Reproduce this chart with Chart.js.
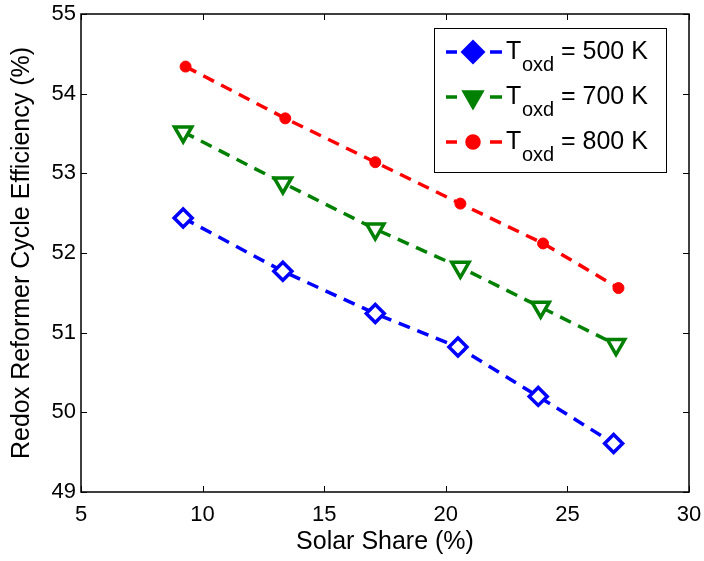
<!DOCTYPE html>
<html>
<head>
<meta charset="utf-8">
<script src="https://cdn.jsdelivr.net/npm/chart.js@4"></script>
<style>
  html, body { margin: 0; padding: 0; background: #fff; }
  #wrap { width: 704px; height: 561px; }
</style>
</head>
<body>
<div id="wrap"><canvas id="effChart" width="704" height="561"></canvas></div>
<script>
// solar share (%) and cycle efficiency (%) for each oxidation temperature
const share500 = [9.2, 13.3, 17.1, 20.5, 23.8, 26.9];
const eff500 = [52.44, 51.77, 51.24, 50.82, 50.20, 49.61];
const share700 = [9.2, 13.3, 17.1, 20.6, 23.9, 27.0];
const eff700 = [53.52, 52.88, 52.30, 51.82, 51.32, 50.85];
const share800 = [9.3, 13.4, 17.1, 20.6, 24.0, 27.1];
const eff800 = [54.34, 53.69, 53.14, 52.62, 52.12, 51.56];

const seriesTemps = ['500', '700', '800'];
const xTicks = [5, 10, 15, 20, 25, 30];
const yTicks = [49, 50, 51, 52, 53, 54, 55];

const FONT = "'Liberation Sans', Arial, Helvetica, sans-serif";

function pts(xs, ys) {
    return xs.map((x, i) => ({ x: x, y: ys[i] }));
}

const lineStyle = {
    showLine: true,
    borderWidth: 3.5,
    borderDash: [12, 8],
    pointBorderWidth: 3.5
};

const datasets = [
    Object.assign({}, lineStyle, {
        label: 'T oxd = ' + seriesTemps[0] + ' K',
        data: pts(share500, eff500),
        borderColor: '#0000ff',
        pointBorderColor: '#0000ff',
        pointBackgroundColor: '#ffffff',
        pointStyle: 'rectRot',
        pointRadius: 9
    }),
    Object.assign({}, lineStyle, {
        label: 'T oxd = ' + seriesTemps[1] + ' K',
        data: pts(share700, eff700),
        borderColor: '#008000',
        pointBorderColor: '#008000',
        pointBackgroundColor: '#ffffff',
        pointStyle: 'triangle',
        pointRotation: 180,
        pointRadius: 10
    }),
    Object.assign({}, lineStyle, {
        label: 'T oxd = ' + seriesTemps[2] + ' K',
        data: pts(share800, eff800),
        borderColor: '#ff0000',
        pointBorderColor: '#ff0000',
        pointBackgroundColor: '#ff0000',
        pointBorderWidth: 1,
        pointStyle: 'circle',
        pointRadius: 5.5
    })
];

// box frame and inward ticks on all four sides
const framePlugin = {
    id: 'frame',
    afterDraw(chart) {
        const ctx = chart.ctx;
        const a = chart.chartArea;
        const xs = chart.scales.x, ys = chart.scales.y;
        const len = 6;
        ctx.save();
        ctx.strokeStyle = '#000';
        ctx.lineWidth = 1;
        ctx.beginPath();
        xTicks.forEach(v => {
            const px = Math.round(xs.getPixelForValue(v)) + 0.5;
            ctx.moveTo(px, a.bottom); ctx.lineTo(px, a.bottom - len);
            ctx.moveTo(px, a.top); ctx.lineTo(px, a.top + len);
        });
        yTicks.forEach(v => {
            const py = Math.round(ys.getPixelForValue(v)) + 0.5;
            ctx.moveTo(a.left, py); ctx.lineTo(a.left + len, py);
            ctx.moveTo(a.right, py); ctx.lineTo(a.right - len, py);
        });
        ctx.stroke();
        ctx.lineWidth = 1.5;
        ctx.strokeRect(a.left, a.top, a.right - a.left, a.bottom - a.top);
        ctx.restore();
    }
};

// legend with subscripted labels
const legendPlugin = {
    id: 'subLegend',
    afterDraw(chart) {
        const ctx = chart.ctx;
        const box = { x: 434, y: 28, w: 232, h: 144 };
        const rows = [52, 97, 142];
        ctx.save();
        ctx.fillStyle = '#fff';
        ctx.fillRect(box.x, box.y, box.w, box.h);
        ctx.strokeStyle = '#000';
        ctx.lineWidth = 1;
        ctx.strokeRect(box.x + 0.5, box.y + 0.5, box.w, box.h);

        chart.data.datasets.forEach((ds, i) => {
            const y = rows[i];
            ctx.strokeStyle = ds.borderColor;
            ctx.lineWidth = 3.5;
            ctx.beginPath();
            ctx.moveTo(446, y); ctx.lineTo(457, y);
            ctx.moveTo(490, y); ctx.lineTo(502, y);
            ctx.stroke();
            Chart.helpers.drawPoint(ctx, {
                pointStyle: ds.pointStyle,
                rotation: ds.pointRotation || 0,
                radius: ds.pointStyle === 'circle' ? 6 : 10,
                borderWidth: 1
            }, 473, y);
            ctx.fillStyle = ds.borderColor;
            ctx.fill();

            ctx.fillStyle = '#000';
            ctx.textBaseline = 'alphabetic';
            ctx.textAlign = 'left';
            ctx.font = '25px ' + FONT;
            ctx.fillText('T', 506, y + 7);
            ctx.font = '20px ' + FONT;
            ctx.fillText('oxd', 522, y + 19);
            ctx.font = '25px ' + FONT;
            ctx.fillText('= ' + seriesTemps[i] + ' K', 561, y + 7);
        });
        ctx.restore();
    }
};

new Chart(document.getElementById('effChart'), {
    type: 'scatter',
    data: { datasets: datasets },
    plugins: [framePlugin, legendPlugin],
    options: {
        responsive: false,
        animation: false,
        layout: { padding: { top: 14, right: 15, left: 0, bottom: 0 } },
        plugins: {
            legend: { display: false },
            tooltip: { enabled: false }
        },
        scales: {
            x: {
                type: 'linear',
                min: 5,
                max: 30,
                afterBuildTicks: s => { s.ticks = xTicks.map(v => ({ value: v })); },
                afterFit: s => { s.height = 69; s.paddingLeft = 0; s.paddingRight = 0; },
                grid: { display: false, drawTicks: false },
                border: { display: false },
                ticks: { color: '#000', font: { family: FONT, size: 22 }, padding: 10, maxRotation: 0 },
                title: {
                    display: true,
                    text: 'Solar Share (%)',
                    color: '#000',
                    font: { family: FONT, size: 25 },
                    padding: { top: 0, bottom: 4 }
                }
            },
            y: {
                type: 'linear',
                min: 49,
                max: 55,
                afterBuildTicks: s => { s.ticks = yTicks.map(v => ({ value: v })); },
                afterFit: s => { s.width = 81; s.paddingTop = 0; s.paddingBottom = 0; },
                grid: { display: false, drawTicks: false },
                border: { display: false },
                ticks: { color: '#000', font: { family: FONT, size: 22 }, padding: 5 },
                title: {
                    display: true,
                    text: 'Redox Reformer Cycle Efficiency (%)',
                    color: '#000',
                    font: { family: FONT, size: 25 },
                    padding: { top: 7, bottom: 0 }
                }
            }
        }
    }
});
</script>
</body>
</html>
